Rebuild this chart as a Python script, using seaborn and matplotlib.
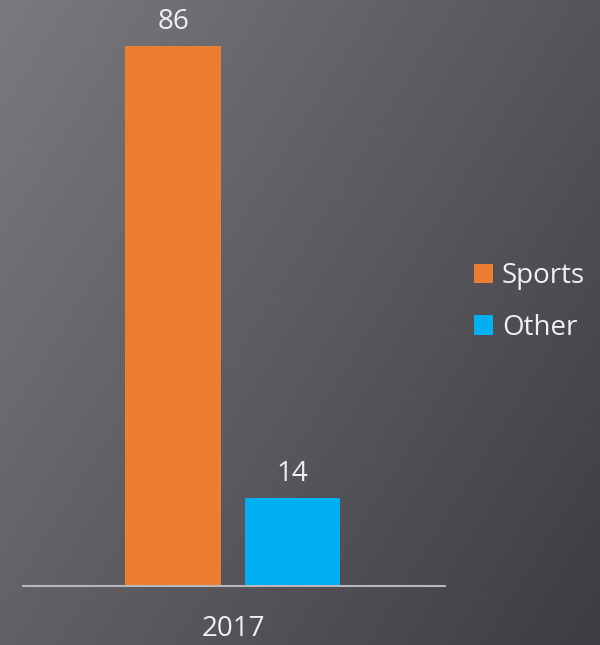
import numpy as np
import pandas as pd
import matplotlib
matplotlib.use("Agg")
import matplotlib.pyplot as plt
import seaborn as sns

categories = ["2017"]
series = ["Sports", "Other"]
values = [86, 14]
colors = ["#ed7d31", "#00b0f0"]

df = pd.DataFrame({"year": categories * len(series), "series": series, "value": values})

sns.set_style("white")
plt.rcParams["font.family"] = ["Open Sans", "DejaVu Sans"]
text_color = "#f0f0f0"

fig = plt.figure(figsize=(6, 6.45), dpi=100)

# gradient background
bg = fig.add_axes([0, 0, 1, 1], zorder=-10)
ny, nx = 200, 200
yy, xx = np.mgrid[0:1:ny * 1j, 0:1:nx * 1j]
t = (xx * 0.6 + yy * 0.4)
c0 = np.array([122, 121, 126]) / 255.0
c1 = np.array([62, 60, 65]) / 255.0
img = c0[None, None, :] * (1 - t[..., None]) + c1[None, None, :] * t[..., None]
bg.imshow(img, aspect="auto", extent=[0, 1, 0, 1], origin="upper")
bg.axis("off")

ax = fig.add_axes([23 / 600, (645 - 586) / 645, (445 - 23) / 600, 586 / 645])
ax.set_facecolor("none")
sns.barplot(data=df, x="year", y="value", hue="series", palette=colors,
            width=0.8, gap=0.2, ax=ax, legend=True, saturation=1, linewidth=0)
ax.set_xlim(-0.703, 0.71)
ax.set_ylim(0, 586 / 540 * 86)
for c in ax.containers:
    ax.bar_label(c, padding=7, color=text_color, fontsize=20)

for s in ["top", "right", "left"]:
    ax.spines[s].set_visible(False)
ax.spines["bottom"].set_color("#b8b8bc")
ax.spines["bottom"].set_linewidth(1.5)
ax.set_yticks([])
ax.set_xlabel("")
ax.set_ylabel("")
ax.tick_params(axis="x", length=0, pad=21, labelsize=20, labelcolor=text_color)

handles, labels = ax.get_legend_handles_labels()
for h in handles:
    h.set_linewidth(0)
ax.legend(handles, labels, loc="center left", bbox_to_anchor=(474 / 600, 1 - 302 / 645),
          bbox_transform=fig.transFigure, frameon=False, fontsize=20,
          labelcolor=text_color, handlelength=0.7, handleheight=0.7,
          handletextpad=0.3, labelspacing=0.85, borderpad=0, borderaxespad=0)

fig.savefig("out.png", dpi=100)
